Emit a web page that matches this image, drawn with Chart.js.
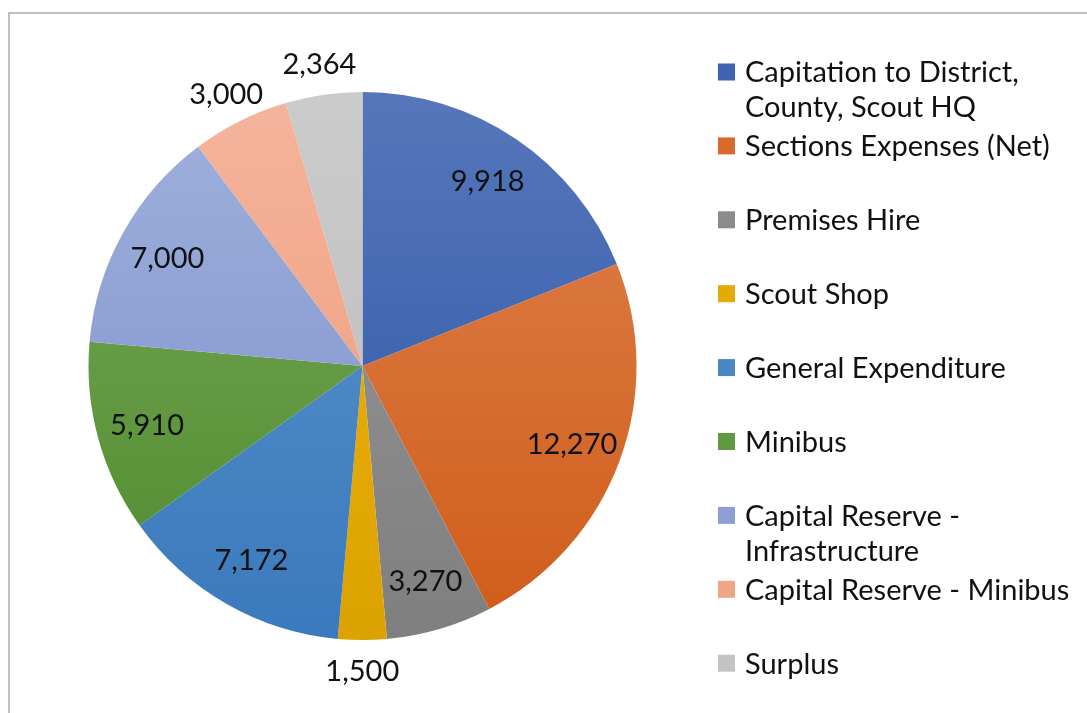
<!DOCTYPE html>
<html>
<head>
<meta charset="utf-8">
<script src="https://cdn.jsdelivr.net/npm/chart.js@4.4.1/dist/chart.umd.min.js"></script>
<style>
  html, body { margin: 0; padding: 0; background: #fff; }
  #wrap { position: relative; width: 1087px; height: 713px; overflow: hidden; }
  #frame { position: absolute; left: 8px; top: 12px; width: 1200px; height: 800px;
           border-left: 2px solid #bfbfbf; border-top: 2px solid #bfbfbf; }
  #c { position: absolute; left: 0; top: 0; }
</style>
</head>
<body>
<div id="wrap">
  <div id="frame"></div>
  <canvas id="c" width="1087" height="713"></canvas>
</div>
<script>
// ---- data ----
const categories = [
  ["Capitation to District,", "County, Scout HQ"],
  ["Sections Expenses (Net)"],
  ["Premises Hire"],
  ["Scout Shop"],
  ["General Expenditure"],
  ["Minibus"],
  ["Capital Reserve -", "Infrastructure"],
  ["Capital Reserve - Minibus"],
  ["Surplus"]
];
const values = [9918, 12270, 3270, 1500, 7172, 5910, 7000, 3000, 2364];
const valueLabels = ["9,918", "12,270", "3,270", "1,500", "7,172", "5,910", "7,000", "3,000", "2,364"];

// ---- styles ----
const topColors    = ["#5676ba", "#de824f", "#999999", "#f0b20e", "#5d96cc", "#7aaa5c", "#a0b1dc", "#f4b49c", "#cbcbcb"];
const bottomColors = ["#2a56a8", "#d05c18", "#7f7f7f", "#dca300", "#3a79bd", "#4e8a2c", "#7a8ecb", "#ee9a76", "#bbbbbb"];
const legendSwatch = ["#3e63b0", "#d86a2c", "#8c8c8c", "#e5ab05", "#4a86c4", "#5f9a40", "#8d9fd4", "#f0a584", "#c3c3c3"];
const FONT = "Lato, 'Open Sans', sans-serif";

function grad(ctx) {
  const chart = ctx.chart;
  const area = chart.chartArea;
  if (!area) return topColors[ctx.dataIndex];
  const g = chart.ctx.createLinearGradient(0, area.top, 0, area.bottom);
  g.addColorStop(0, topColors[ctx.dataIndex]);
  g.addColorStop(1, bottomColors[ctx.dataIndex]);
  return g;
}

const labelPlugin = {
  id: 'valueLabels',
  afterDatasetsDraw(chart) {
    const ctx = chart.ctx;
    const meta = chart.getDatasetMeta(0);
    const total = values.reduce((a, b) => a + b, 0);
    ctx.save();
    ctx.font = "29px " + FONT;
    ctx.fillStyle = "#111";
    ctx.textAlign = "center";
    ctx.textBaseline = "middle";
    meta.data.forEach((arc, i) => {
      const p = arc.getProps(['x', 'y', 'startAngle', 'endAngle', 'outerRadius'], true);
      const mid = (p.startAngle + p.endAngle) / 2;
      const frac = values[i] / total;
      const r = frac < 0.06 ? p.outerRadius + 31 : p.outerRadius * 0.815;
      ctx.fillText(valueLabels[i], p.x + Math.cos(mid) * r, p.y + Math.sin(mid) * r + 1);
    });
    ctx.restore();
  }
};

const legendPlugin = {
  id: 'sideLegend',
  afterDraw(chart) {
    const ctx = chart.ctx;
    ctx.save();
    ctx.font = "29px " + FONT;
    ctx.textBaseline = "middle";
    ctx.textAlign = "left";
    const x0 = 718, y0 = 72, step = 73.9, lineH = 35, sq = 17;
    categories.forEach((lines, i) => {
      const y = y0 + i * step;
      ctx.fillStyle = legendSwatch[i];
      ctx.fillRect(x0, y - sq / 2, sq, sq);
      ctx.fillStyle = "#111";
      lines.forEach((t, j) => ctx.fillText(t, x0 + 27, y + j * lineH + 1));
    });
    ctx.restore();
  }
};

new Chart(document.getElementById('c'), {
  type: 'pie',
  data: {
    labels: categories.map(l => l.join(' ')),
    datasets: [{
      data: values,
      backgroundColor: grad,
      borderWidth: 0
    }]
  },
  options: {
    responsive: false,
    animation: false,
    rotation: 0,
    layout: { padding: { left: 88, right: 450, top: 92, bottom: 73 } },
    plugins: { legend: { display: false }, tooltip: { enabled: false } }
  },
  plugins: [labelPlugin, legendPlugin]
});
</script>
</body>
</html>
